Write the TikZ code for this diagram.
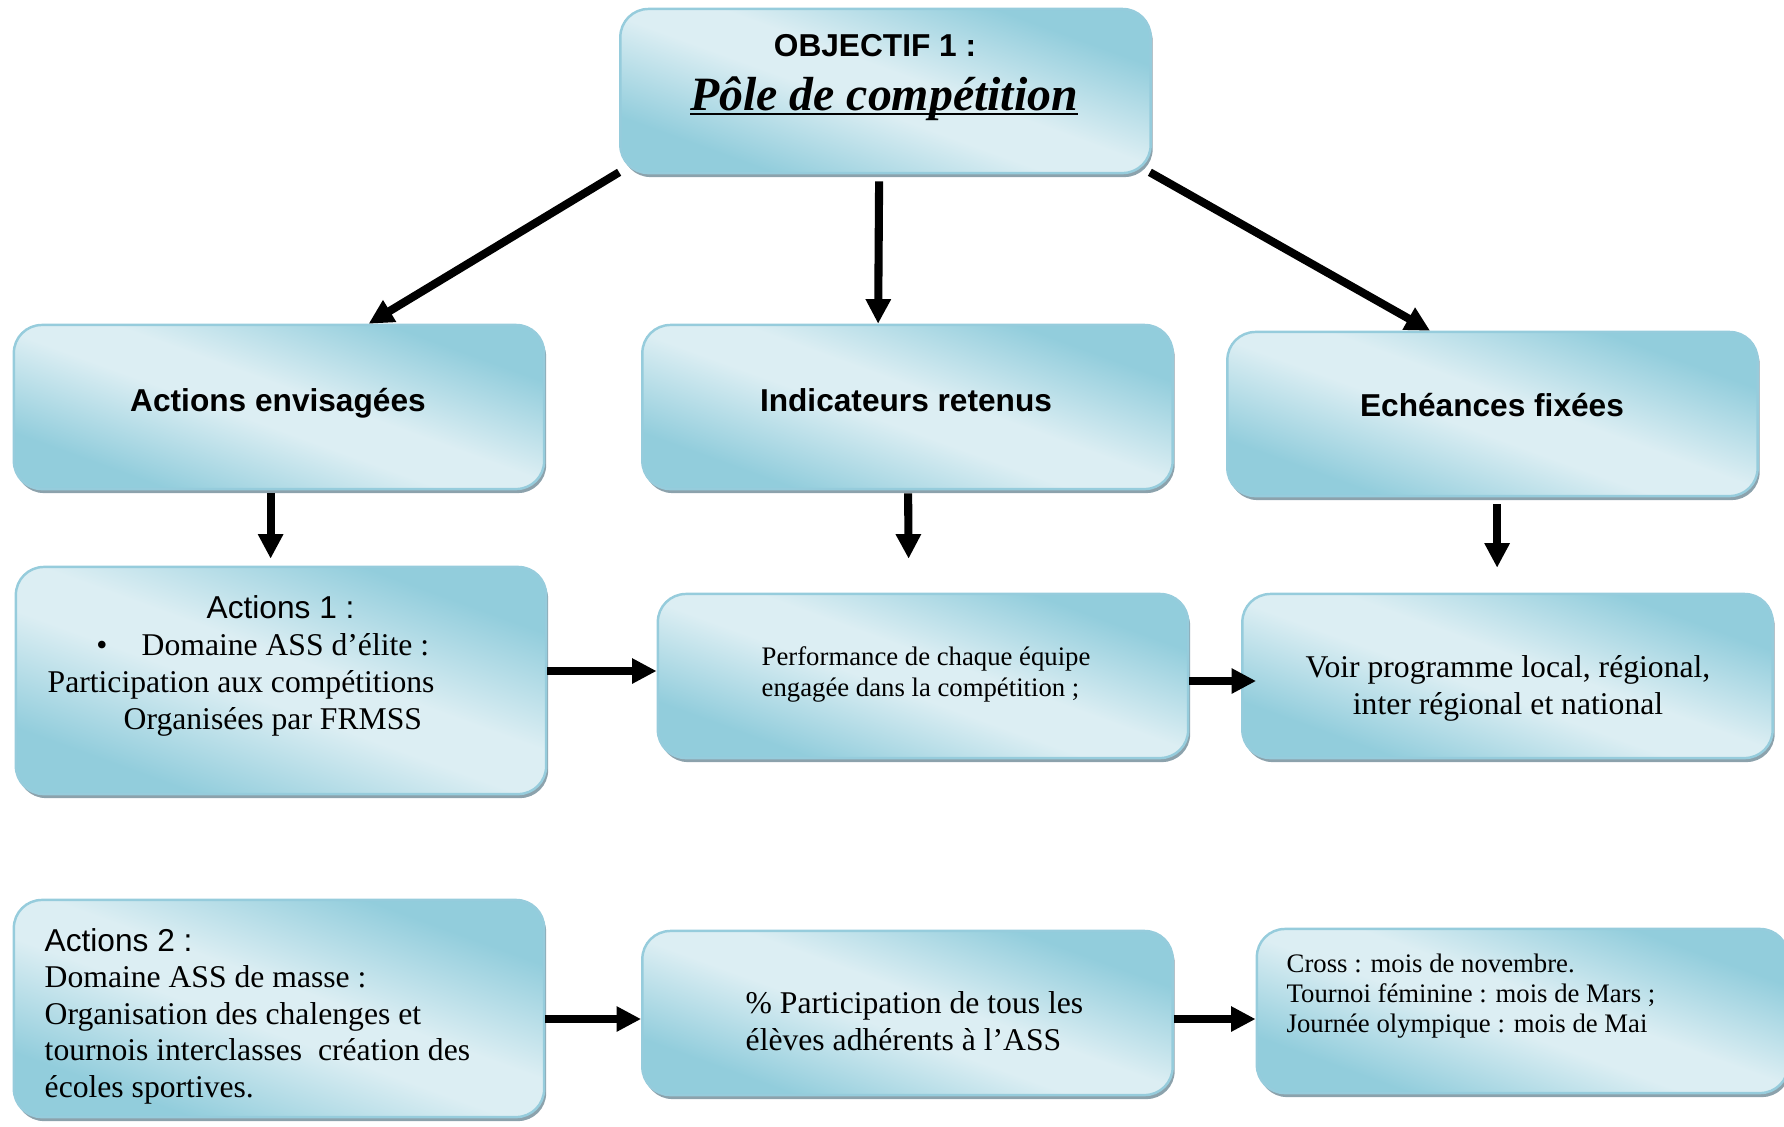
\documentclass[tikz,border=0pt]{standalone}
\usepackage{fontspec}
\setmainfont{Liberation Serif}
\setsansfont{Liberation Sans}
\usetikzlibrary{arrows.meta,shadows,calc}
\definecolor{dk}{RGB}{146,205,220}
\definecolor{lt}{RGB}{220,238,243}
\definecolor{bd}{RGB}{150,204,220}
\definecolor{sh}{RGB}{140,162,172}
\pgfdeclarehorizontalshading{aqua}{100bp}{color(0bp)=(dk); color(28bp)=(dk); color(46bp)=(lt); color(54bp)=(lt); color(72bp)=(dk); color(100bp)=(dk)}
\newcommand\thickul[1]{\setbox0=\hbox{#1}\leavevmode\rlap{\rule[-1.5pt]{\wd0}{0.75pt}}\box0}
\begin{document}
\begin{tikzpicture}[x=0.01cm,y=-0.01cm,
  box/.style={rectangle, rounded corners=0.28cm, draw=bd, line width=0.7pt,
    shading=aqua, shading angle=70, minimum width=5.3cm, minimum height=1.64cm,
    inner sep=0pt,
    drop shadow={shadow xshift=0.02cm, shadow yshift=-0.04cm, fill=sh, opacity=1}},
  arr/.style={line width=2.3pt, -{Triangle[length=7pt,width=6.8pt]}},
  head/.style={inner sep=0pt, anchor=base, font=\sffamily\bfseries\fontsize{9}{11}\selectfont},
  sfl/.style={inner sep=0pt, anchor=base west, font=\sffamily\fontsize{9}{11}\selectfont},
  big/.style={inner sep=0pt, anchor=base west, font=\fontsize{9}{11}\selectfont},
  bigc/.style={inner sep=0pt, anchor=base, font=\fontsize{9}{11}\selectfont},
  small/.style={inner sep=0pt, anchor=base west, font=\fontsize{7.6}{9}\selectfont}
]
\useasboundingbox (0,0) rectangle (1784,1126);

% boxes
\node[box] (obj) at (885.5,91) {};
\node[box] (act) at (279,407) {};
\node[box] (ind) at (907.5,407) {};
\node[box] (ech) at (1492.5,414) {};
\node[box, minimum height=2.27cm] (a1) at (281,680.5) {};
\node[box] (perf) at (923,676) {};
\node[box] (voir) at (1507.5,676) {};
\node[box, minimum height=2.17cm] (a2) at (279,1008.5) {};
\node[box] (pct) at (907.5,1013) {};
\node[box, minimum width=5.31cm] (cross) at (1522.5,1011) {};

% texts
\node[head] (objt1) at (875,56) {OBJECTIF 1 :};
\node[inner sep=0pt, anchor=base, font=\bfseries\itshape\fontsize{13.6}{16}\selectfont] (objt2) at (884,110) {\thickul{Pôle de compétition}};
\node[head] (actt) at (278,411) {Actions envisagées};
\node[head] (indt) at (906,411) {Indicateurs retenus};
\node[head] (echt) at (1492,416) {Echéances fixées};

\node[sfl] (a1l1) at (206,618) {Actions 1 :};
\node[bigc] (a1b) at (102,655) {•};
\node[big] (a1l2) at (141,655) {Domaine ASS d’élite :};
\node[big] (a1l3) at (47,692) {Participation aux compétitions};
\node[big] (a1l4) at (123,729) {Organisées par FRMSS};

\node[small] (pf1) at (761,665) {Performance de chaque équipe};
\node[small] (pf2) at (761,696) {engagée dans la compétition ;};

\node[bigc] (vo1) at (1508,677) {Voir programme local, régional,};
\node[bigc] (vo2) at (1508,714) {inter régional et national};

\node[sfl] (a2l1) at (44,951) {Actions 2 :};
\node[big] (a2l2) at (44,987) {Domaine ASS de masse :};
\node[big] (a2l3) at (44,1024) {Organisation des chalenges et};
\node[big] (a2l4) at (44,1060) {tournois interclasses~ création des};
\node[big] (a2l5) at (44,1097) {écoles sportives.};

\node[big] (pc1) at (745,1013) {\% Participation de tous les};
\node[big] (pc2) at (745,1050) {élèves adhérents à l’ASS};

\node[small] (cr1) at (1286,972) {Cross : mois de novembre.};
\node[small] (cr2) at (1286,1002) {Tournoi féminine : mois de Mars ;};
\node[small] (cr3) at (1286,1032) {Journée olympique : mois de Mai};

% connectors
\draw[arr] ($(obj.south west)+(0,-2)$) -- ($(act.north west)+(356,0)$);
\draw[arr] ($(obj.south west)+(260,7)$) -- ($(ind.north west)+(237,0)$);
\draw[arr] ($(obj.south east)+(-2,-2)$) -- ($(ech.north west)+(204,0)$);
\draw[arr] ($(act.south west)+(258,3)$) -- ($(a1.north west)+(256,-7)$);
\draw[arr] ($(ind.south west)+(267,3)$) -- ($(perf.north west)+(252,-34)$);
\draw[arr] ($(ech.south west)+(271,7)$) -- ($(voir.north west)+(256,-25)$);
\draw[arr] (a1.east |- 0,671) -- (perf.west |- 0,671);
\draw[arr] (perf.east |- 0,681) -- ($(voir.west |- 0,681)+(15,0)$);
\draw[arr] (a2.east |- 0,1019) -- (pct.west |- 0,1019);
\draw[arr] (pct.east |- 0,1019) -- (cross.west |- 0,1019);
\end{tikzpicture}
\end{document}
